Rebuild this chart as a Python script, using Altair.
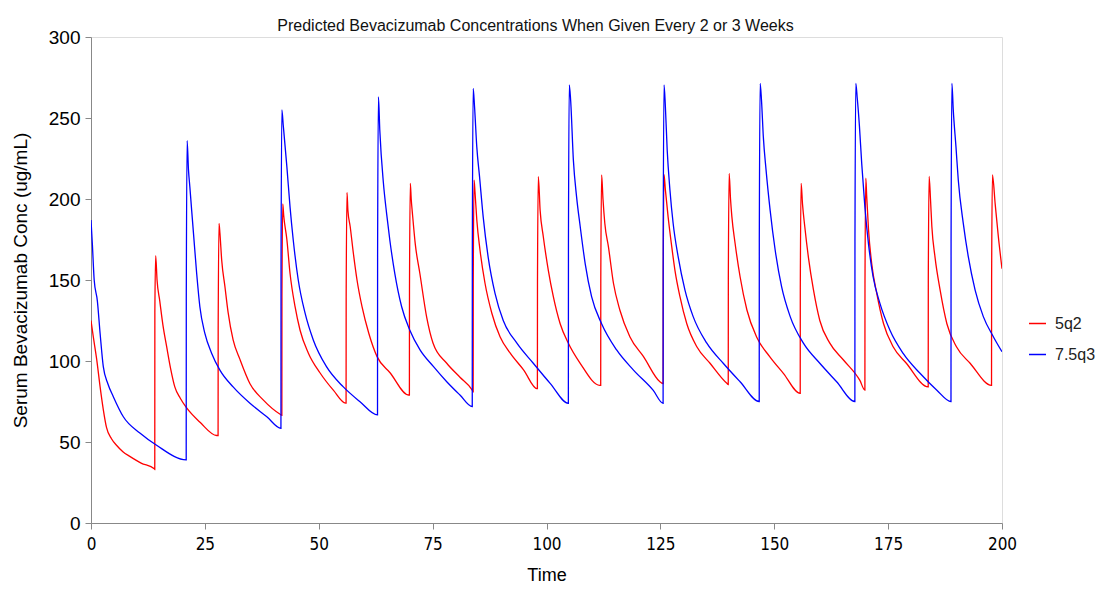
import altair as alt
import pandas as pd

# 5q2 series (time in days, serum concentration ug/mL)
red_t = [0, 0.5, 1.25, 2, 2.7, 3.4, 4.5, 5.6, 7, 8.6, 11, 13.9,
         14.0, 14.02, 14.2, 14.5, 15.1, 15.8, 16.6, 17.5, 18.4, 19.6, 21, 24, 27.6,
         27.9, 27.92, 28.1, 28.3, 28.7, 29.4, 30.1, 31.2, 32.7, 34.9, 37.8, 41.6,
         41.9, 41.92, 42.1, 42.3, 43, 43.7, 44.8, 45.9, 47.7, 50.3, 53.2, 55.9,
         56.0, 56.02, 56.2, 56.4, 56.9, 57.6, 58.4, 59.5, 61, 62.8, 65.7, 69.7,
         69.9, 69.92, 70.1, 70.3, 70.6, 71.2, 72.2, 73.7, 75.1, 78.1, 81, 83.7,
         83.9, 83.92, 84.1, 84.3, 84.7, 85.4, 86.5, 88, 89.8, 92, 95, 97.9,
         98.0, 98.02, 98.2, 98.6, 99.3, 100.4, 101.5, 103, 104.8, 107.4, 111.7,
         111.9, 111.92, 112.1, 112.4, 112.8, 113.6, 114.7, 116.1, 118.3, 121.3, 124.9, 125.6,
         125.62, 125.8, 126.1, 126.7, 127.5, 128.2, 129.3, 130.8, 133, 135.9, 139.6, 139.9,
         139.92, 140.1, 140.4, 140.7, 141.4, 142.5, 144, 146.1, 149, 152, 155.7,
         155.72, 155.9, 156.2, 156.7, 157.5, 158.6, 160, 162.2, 165.2, 168.8, 169.9,
         169.92, 170.1, 170.3, 170.7, 171.4, 172.5, 174, 176.1, 179, 183.8,
         183.82, 184.0, 184.3, 184.6, 185.3, 186.4, 187.9, 190, 193, 197.7,
         197.72, 197.9, 198.5, 199.2, 200]
red_c = [125, 115, 101, 84, 70, 59, 52, 48, 44, 41, 37, 33.5,
         33, 130, 165, 150, 137, 122, 109, 95, 84, 77, 71, 62, 54,
         54, 119, 185, 179, 162, 146, 130, 113, 101, 86, 76, 67,
         66.5, 140, 197, 190, 175, 154, 133.5, 119, 105, 92.6, 82, 74,
         74, 139, 204, 193, 183, 166.5, 150, 133.5, 117, 102.7, 92.6, 79,
         79, 144, 209.7, 200, 190, 172, 154, 127, 111, 98.6, 90, 82,
         81, 147, 211.7, 204.5, 187, 168.5, 148, 129.5, 115, 105, 94.4, 83,
         83, 148, 213.8, 193, 176.7, 156, 139.7, 123, 111, 98.6, 85,
         85, 150, 214.8, 200, 185, 170.5, 148, 131.5, 115, 102.7, 87.2, 86,
         150, 215, 205.6, 189, 170.5, 156, 139.7, 123, 108.8, 98.6, 86.2, 85.5,
         151, 215.8, 200, 189, 172.7, 152, 131.5, 115, 102.7, 92.4, 80,
         145, 209.7, 197, 183, 164, 144, 125, 111, 100.6, 88, 82,
         148, 212.8, 201.5, 181, 160, 141.8, 123, 108.8, 98.6, 84,
         150, 214, 200, 183, 164, 144, 123, 108.8, 98.6, 85,
         150, 214.8, 197, 176.7, 157]

# 7.5q3 series
blue_t = [0, 0.3, 0.7, 1.4, 2, 2.7, 3.7, 4.9, 7.1, 10.8, 14.4, 20.9,
          20.92, 21.1, 21.4, 21.7, 22.1, 22.5, 23.2, 23.9, 25, 26.5, 28.3, 31.2, 34.9, 38.6, 41.7,
          41.72, 41.9, 42.2, 43, 43.7, 44.4, 45.5, 47, 48.8, 51.7, 55.4, 59, 62.9,
          62.92, 63.1, 63.4, 64.2, 64.9, 65.6, 66.7, 68.2, 70, 72.2, 75.2, 78.1, 81, 83.7,
          83.72, 83.9, 84.2, 84.7, 85.3, 86.1, 87.2, 88.7, 90.5, 93.5, 97.1, 100.8, 104.8,
          104.82, 105.0, 105.3, 105.9, 106.6, 107.4, 108.5, 109.9, 112.1, 115.4, 119.1, 123.4, 125.6,
          125.62, 125.8, 126.1, 126.5, 127.1, 127.8, 128.9, 130.4, 132.2, 135.2, 138.8, 142.5, 146.7,
          146.72, 146.9, 147.2, 147.6, 148.2, 149.1, 150.2, 151.6, 153.5, 156.4, 160, 163.7, 167.7,
          167.72, 167.9, 168.2, 168.7, 169.2, 169.9, 170.7, 171.7, 173.2, 175.4, 178.3, 182, 185.7, 188.8,
          188.82, 189.0, 189.3, 189.9, 190.4, 191.5, 192.6, 194.1, 195.9, 198.1, 200]
blue_c = [187, 172, 150, 137, 117, 96.5, 86, 78, 65.6, 55.4, 48, 39,
          137.6, 236, 218, 207.6, 193, 178.8, 154, 133.5, 117, 104.7, 94.4, 84, 73.9, 65.6, 58.5,
          156, 255, 245.7, 220, 195, 174.7, 150, 129.5, 113, 96.5, 84, 75, 66.7,
          165, 263, 242.6, 209.7, 191, 174.7, 154, 133.5, 119, 107, 96.5, 87.2, 79, 71.8,
          169.5, 268.3, 257, 232, 213.8, 189, 164, 141.8, 125, 111, 98.6, 86.2, 73.9,
          171.6, 270.4, 261, 224, 201.5, 183, 160, 139.7, 123, 106.8, 94.4, 82, 73.9,
          172.7, 270.4, 257, 230, 205.6, 185, 164.4, 143.8, 127.4, 111, 98.6, 87.2, 75,
          173, 271.4, 261, 238.5, 218, 193, 168.5, 146, 127.4, 111, 98.6, 87.2, 75,
          173.6, 271.4, 263, 245, 222, 195, 172, 152, 135.6, 119, 104.7, 92.4, 82, 75,
          173, 271.4, 255, 232, 211.7, 185, 164.4, 143.8, 127.4, 115, 105.7]

series_names = ["5q2", "7.5q3"]
series_colors = ["#ff0000", "#0000ff"]
x_ticks = [0, 25, 50, 75, 100, 125, 150, 175, 200]
y_ticks = [0, 50, 100, 150, 200, 250, 300]

df = pd.concat([
    pd.DataFrame({"Time": red_t, "Conc": red_c, "Series": series_names[0]}),
    pd.DataFrame({"Time": blue_t, "Conc": blue_c, "Series": series_names[1]}),
], ignore_index=True)

FONT = "Liberation Sans"

chart = alt.Chart(df).mark_line(strokeWidth=1.3, interpolate="monotone", clip=True).encode(
    x=alt.X("Time:Q", scale=alt.Scale(domain=[0, 200], nice=False),
            axis=alt.Axis(values=x_ticks, title="Time", titleFontSize=18, titleFontWeight="normal",
                          titleFont=FONT, titlePadding=14, labelFontSize=17, grid=False,
                          labelFont="Liberation Sans Narrow, Arial Narrow, DejaVu Sans Condensed, Liberation Sans",
                          labelPadding=7, tickSize=6, labelFlush=False)),
    y=alt.Y("Conc:Q", scale=alt.Scale(domain=[0, 300], nice=False),
            axis=alt.Axis(values=y_ticks, title="Serum Bevacizumab Conc (ug/mL)", titleFontSize=19,
                          titleFontWeight="normal", titleFont=FONT, titlePadding=18, grid=False,
                          labelFontSize=19, labelFont=FONT, labelPadding=5, tickSize=6)),
    color=alt.Color("Series:N", scale=alt.Scale(domain=series_names, range=series_colors),
                    legend=alt.Legend(title=None, orient="none", legendX=937, legendY=277,
                                      symbolType="stroke", symbolSize=289, symbolStrokeWidth=1.5,
                                      labelFontSize=16, labelFont=FONT, labelColor="#222222",
                                      labelOffset=8, rowPadding=13, padding=0)),
).properties(
    width=911, height=486,
    title=alt.TitleParams("Predicted Bevacizumab Concentrations When Given Every 2 or 3 Weeks",
                          fontSize=16, fontWeight="normal", font=FONT, anchor="middle",
                          offset=8, dx=-11, dy=14, color="#111111"),
    autosize=alt.AutoSizeParams(type="none"),
    padding={"left": 83, "top": 29, "right": 94, "bottom": 60},
).configure_view(stroke=None).configure_axis(
    grid=False, domainColor="#000000", domainWidth=1.5, tickColor="#000000", tickWidth=1.5,
    labelColor="#222222", titleColor="#222222"
).configure(background="white")

chart.save("out.html", embed_options={"renderer": "svg", "actions": False})
